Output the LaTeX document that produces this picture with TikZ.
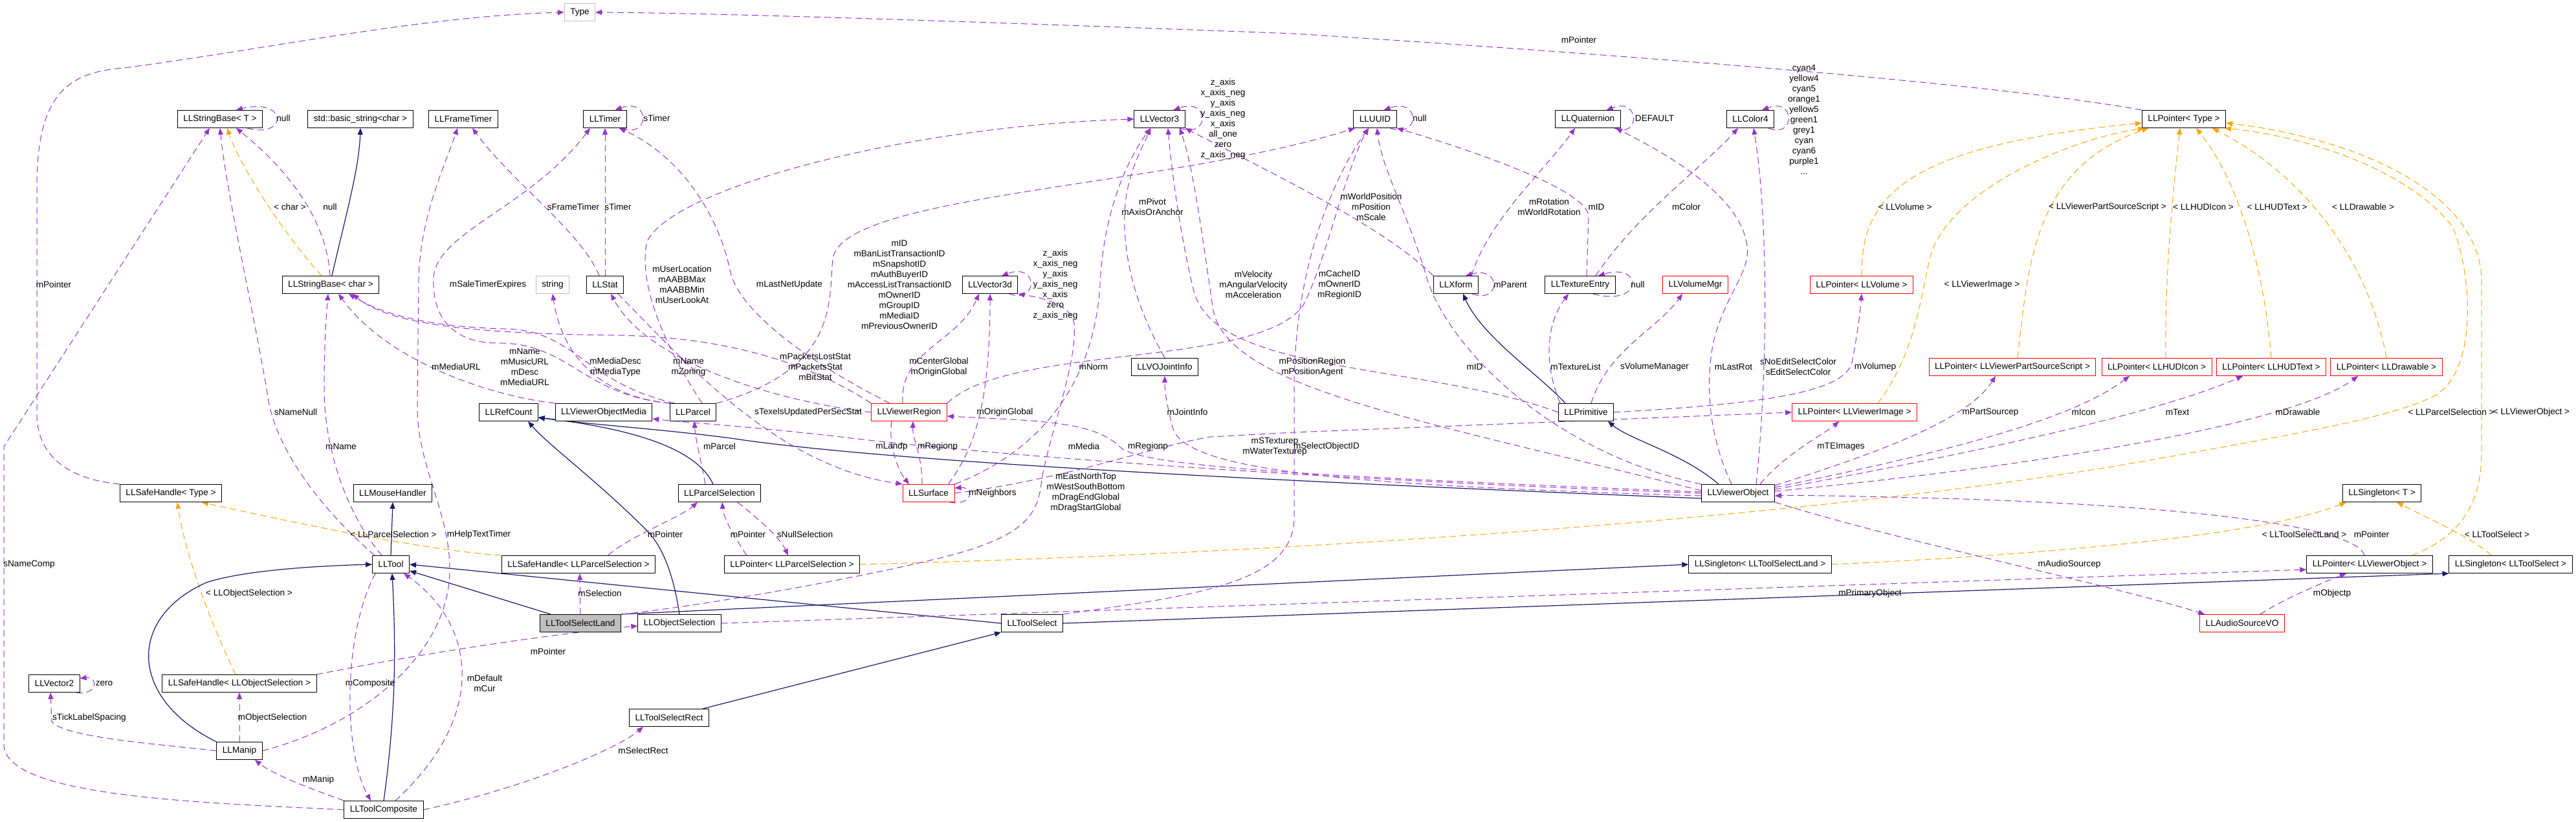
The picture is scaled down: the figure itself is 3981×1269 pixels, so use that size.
\documentclass[tikz,border=0pt]{standalone}
\usepackage{fontspec}
\setmainfont{Liberation Sans}
\usetikzlibrary{arrows.meta,calc}
\definecolor{dxpurple}{HTML}{9A32CD}
\definecolor{dxorange}{HTML}{FFA500}
\definecolor{dxnavy}{HTML}{191970}
\definecolor{dxgray}{HTML}{BFBFBF}
\pgfdeclarelayer{bg}
\pgfdeclarelayer{edges}
\pgfsetlayers{bg,edges,main}
\tikzset{
  cls/.style={draw=black, fill=white, line width=0.5pt, font=\fontsize{6.8}{8}\selectfont,
    inner xsep=4.5pt, inner ysep=0pt, minimum height=13.5pt},
  redcls/.style={cls, draw=red},
  extcls/.style={cls, draw=dxgray},
  curcls/.style={cls, fill=dxgray},
  lbl/.style={font=\fontsize{6.8}{8}\selectfont, inner sep=0pt, align=center},
  usage/.style={draw=dxpurple, line width=0.5pt, dash pattern=on 5pt off 3pt,
    -{Triangle[length=5pt,width=4pt]}},
  tmpl/.style={usage, draw=dxorange},
  inherit/.style={draw=dxnavy, line width=0.6pt, -{Triangle[length=5pt,width=4pt]}},
}
\begin{document}
\begin{tikzpicture}[x=0.5pt,y=-0.5pt]
\useasboundingbox (0,0) rectangle (3981,1269);
\begin{pgfonlayer}{bg}
  \fill[white] (0,0) rectangle (3981,1269);
\end{pgfonlayer}

% classes
\node[extcls] (type) at (896,19) {Type};
\node[cls] (sbT) at (340,184) {LLStringBase< T >};
\node[cls] (bstr) at (557,184) {std::basic\_string<char >};
\node[cls] (ftimer) at (716,184) {LLFrameTimer};
\node[cls] (timer) at (935,184) {LLTimer};
\node[cls] (v3) at (1792,184) {LLVector3};
\node[cls] (uuid) at (2125,184) {LLUUID};
\node[cls] (quat) at (2454,184) {LLQuaternion};
\node[cls] (col4) at (2705,184) {LLColor4};
\node[cls] (ptrT) at (3375,184) {LLPointer< Type >};
\node[cls] (sbc) at (511,440) {LLStringBase< char >};
\node[extcls] (string) at (854,440) {string};
\node[cls] (stat) at (935,440) {LLStat};
\node[cls] (v3d) at (1530,440) {LLVector3d};
\node[cls] (xform) at (2250,440) {LLXform};
\node[cls] (te) at (2442,440) {LLTextureEntry};
\node[redcls] (volmgr) at (2620,440) {LLVolumeMgr};
\node[redcls] (pvol) at (2877,440) {LLPointer< LLVolume >};
\node[redcls] (pvpss) at (3110,567) {LLPointer< LLViewerPartSourceScript >};
\node[redcls] (phicon) at (3333,567) {LLPointer< LLHUDIcon >};
\node[redcls] (phtext) at (3510,567) {LLPointer< LLHUDText >};
\node[redcls] (pdraw) at (3688,567) {LLPointer< LLDrawable >};
\node[cls] (vojoint) at (1800,567) {LLVOJointInfo};
\node[cls] (refc) at (786,637) {LLRefCount};
\node[cls] (vom) at (933,637) {LLViewerObjectMedia};
\node[cls] (parcel) at (1071,637) {LLParcel};
\node[redcls] (region) at (1405,637) {LLViewerRegion};
\node[cls] (prim) at (2451,637) {LLPrimitive};
\node[redcls] (pvimg) at (2866,637) {LLPointer< LLViewerImage >};
\node[cls] (shT) at (264,762) {LLSafeHandle< Type >};
\node[cls] (mouse) at (607,762) {LLMouseHandler};
\node[cls] (psel) at (1112,762) {LLParcelSelection};
\node[redcls] (surf) at (1435,762) {LLSurface};
\node[cls] (vobj) at (2686,762) {LLViewerObject};
\node[cls] (singT) at (3681,762) {LLSingleton< T >};
\node[cls] (tool) at (604,872) {LLTool};
\node[cls] (shps) at (894,872) {LLSafeHandle< LLParcelSelection >};
\node[cls] (pps) at (1224,872) {LLPointer< LLParcelSelection >};
\node[cls] (sistl) at (2720,872) {LLSingleton< LLToolSelectLand >};
\node[cls] (pvo) at (3662,872) {LLPointer< LLViewerObject >};
\node[cls] (sists) at (3880,872) {LLSingleton< LLToolSelect >};
\node[curcls] (tsl) at (897,963) {LLToolSelectLand};
\node[cls] (osel) at (1050,963) {LLObjectSelection};
\node[cls] (tsel) at (1595,963) {LLToolSelect};
\node[redcls] (asvo) at (3465,963) {LLAudioSourceVO};
\node[cls] (v2) at (84,1056) {LLVector2};
\node[cls] (shos) at (370,1056) {LLSafeHandle< LLObjectSelection >};
\node[cls] (tsr) at (1034,1109) {LLToolSelectRect};
\node[cls] (manip) at (370,1160) {LLManip};
\node[cls] (tcomp) at (593,1251) {LLToolComposite};

\begin{pgfonlayer}{edges}
% template instances
\draw[tmpl] ([xshift=-7pt]sbc.north) .. controls (445,370) and (372,260) .. ([xshift=5.5pt]sbT.south);
\draw[tmpl] (shps.north west) .. controls (650,850) and (420,800) .. ([xshift=24pt]shT.south);
\draw[tmpl] ([xshift=-3pt]shos.north) .. controls (320,950) and (285,850) .. ([xshift=5pt]shT.south);
\draw[tmpl] (pvol.north) .. controls (2875,300) and (2950,225) .. ([yshift=-3pt]ptrT.west);
\draw[tmpl] ([xshift=18pt]pvimg.north) .. controls (2965,540) and (2970,440) .. (2985,390) .. controls (3020,290) and (3200,215) .. ([xshift=2pt]ptrT.south west);
\draw[tmpl] ([xshift=4pt]pvpss.north) .. controls (3135,400) and (3145,260) .. ([xshift=5pt]ptrT.south west);
\draw[tmpl] ([xshift=7pt]phicon.north) .. controls (3345,420) and (3360,280) .. ([xshift=-3pt]ptrT.south);
\draw[tmpl] (phtext.north) .. controls (3500,420) and (3460,280) .. ([xshift=9.5pt]ptrT.south);
\draw[tmpl] (pdraw.north) .. controls (3660,400) and (3560,270) .. ([xshift=22pt]ptrT.south);
\draw[tmpl] (pps.east) .. controls (2000,855) and (2800,800) .. (3300,715) .. controls (3550,670) and (3700,645) .. (3765,610) .. controls (3830,570) and (3820,420) .. (3790,350) .. controls (3720,260) and (3560,210) .. ([xshift=-1pt]ptrT.south east);
\draw[tmpl] ([xshift=33pt]pvo.north) .. controls (3800,830) and (3835,780) .. (3835,700) -- (3835,430) .. controls (3830,300) and (3650,215) .. ([yshift=-3pt]ptrT.east);
\draw[tmpl] (sistl.east) .. controls (3200,855) and (3500,825) .. ([xshift=3pt]singT.south west);
\draw[tmpl] ([xshift=-15pt]sists.north) .. controls (3820,830) and (3750,800) .. ([xshift=-19pt]singT.south east);

% inheritance
\draw[inherit] ([xshift=1pt]sbc.north) .. controls (535,330) and (555,260) .. (bstr.south);
\draw[inherit] ([xshift=-16pt]prim.north) .. controls (2380,580) and (2290,520) .. ([xshift=5.5pt]xform.south);
\draw[inherit] ([xshift=-15pt]vobj.north) .. controls (2600,700) and (2520,680) .. ([xshift=17pt]prim.south);
\draw[inherit] ([yshift=-4pt]vobj.west) .. controls (2000,745) and (1400,715) .. (1150,680) .. controls (1050,665) and (900,655) .. ([yshift=-4pt]refc.east);
\draw[inherit] ([xshift=-5pt]psel.north) .. controls (1080,700) and (1000,665) .. ([yshift=-4pt]refc.east);
\draw[inherit] (osel.north) .. controls (1040,880) and (1020,840) .. (1000,820) .. controls (920,740) and (850,690) .. ([xshift=15pt]refc.south);
\draw[inherit] (tool.north) -- (mouse.south);
\draw[inherit] ([xshift=-23pt]tsl.north) -- ([yshift=2pt]tool.south east);
\draw[inherit] (tsel.west) -- (tool.east);
\draw[inherit] (manip.north west) .. controls (200,1080) and (195,955) .. (319,900) .. controls (380,880) and (500,874) .. (tool.west);
\draw[inherit] (tcomp.north) .. controls (612,1100) and (612,1000) .. ([xshift=1pt]tool.south);
\draw[inherit] ([xshift=26pt]tsr.north) -- (tsel.south west);
\draw[inherit] (tsl.north east) -- (sistl.west);
\draw[inherit] (tsel.east) -- (sists.south west);

% usage: top and left
\draw[usage] (ptrT.north west) .. controls (3200,150) and (2900,110) .. (2000,52) .. controls (1500,33) and (1100,20) .. (type.east);
\draw[usage] (shT.north west) .. controls (100,740) and (57,700) .. (57,640) -- (57,290) .. controls (57,150) and (100,112) .. (191,105) .. controls (420,75) and (650,25) .. (type.west);
\draw[usage] (tcomp.west) .. controls (300,1240) and (6,1230) .. (6,1150) -- (6,690) -- ([xshift=-8pt]sbT.south);
\draw[usage] ([xshift=-12pt]sbT.south east) .. controls (445,215) and (445,150) .. ([xshift=12.5pt]sbT.north);
\draw[usage] ([xshift=-0.5pt]sbc.north) .. controls (505,330) and (430,250) .. ([xshift=12.5pt]sbT.south);
\draw[usage] ([xshift=2pt]tool.north west) .. controls (500,790) and (430,700) .. (415,620) .. controls (400,520) and (350,300) .. (sbT.south);
\draw[usage] ([xshift=-7pt]tool.north) .. controls (540,800) and (501,700) .. (501,600) .. controls (501,520) and (505,480) .. ([xshift=-2pt]sbc.south);
\draw[usage] (manip.east) .. controls (560,1120) and (695,1010) .. (695,880) .. controls (695,790) and (645,720) .. (645,630) -- (647,430) .. controls (650,330) and (690,250) .. ([xshift=-4.5pt]ftimer.south);
\draw[usage] ([xshift=-4.5pt]stat.north) .. controls (900,360) and (790,280) .. ([xshift=7pt]ftimer.south);
\draw[usage] (stat.north) -- (timer.south);
\draw[usage] ([xshift=-4pt]timer.south east) .. controls (1005,215) and (1005,150) .. ([xshift=-9pt]timer.north east);
\draw[usage] (parcel.north west) .. controls (900,610) and (880,530) .. (770,530) .. controls (690,530) and (668,480) .. (670,430) .. controls (672,360) and (820,320) .. ([xshift=-11.5pt]timer.south);
\draw[usage] ([xshift=-15pt]region.north) .. controls (1250,560) and (1140,480) .. (1128,417) .. controls (1110,330) and (1050,240) .. ([xshift=11pt]timer.south);
\draw[usage] (vom.north west) .. controls (760,612) and (600,560) .. ([xshift=6pt]sbc.south);
\draw[usage] ([xshift=4pt]parcel.north west) .. controls (900,590) and (890,510) .. (780,508) .. controls (660,505) and (590,485) .. ([xshift=14pt]sbc.south);
\draw[usage] (region.north west) .. controls (1250,560) and (1120,520) .. (950,518) .. controls (720,515) and (600,500) .. ([xshift=17pt]sbc.south);
\draw[usage] ([xshift=1pt]parcel.north west) .. controls (940,615) and (870,560) .. (string.south);
\draw[usage] (region.west) .. controls (1200,620) and (1000,560) .. ([xshift=4.5pt]stat.south);
\draw[usage] ([xshift=10pt]stat.south) .. controls (1060,560) and (1200,720) .. (surf.north west);
\draw[usage] ([xshift=7pt]parcel.north) .. controls (1030,540) and (985,440) .. (1000,373) .. controls (1040,290) and (1400,195) .. (v3.west);

% usage: vectors, ids, rotations
\draw[usage] ([xshift=-4.5pt]v3.south east) .. controls (1870,215) and (1870,150) .. ([xshift=-9pt]v3.north east);
\draw[usage] (vojoint.north) .. controls (1770,500) and (1735,420) .. (1738,330) .. controls (1740,270) and (1765,230) .. ([xshift=-7pt]v3.south);
\draw[usage] (surf.north east) .. controls (1600,700) and (1690,600) .. (1700,440) .. controls (1705,330) and (1740,250) .. ([xshift=-7pt]v3.south);
\draw[usage] (prim.west) .. controls (2200,560) and (1880,580) .. (1845,450) .. controls (1825,370) and (1810,260) .. ([xshift=6.5pt]v3.south);
\draw[usage] ([yshift=2pt]vobj.west) .. controls (2200,650) and (1900,600) .. (1875,480) .. controls (1860,380) and (1845,260) .. ([xshift=15.5pt]v3.south);
\draw[usage] (xform.north west) .. controls (2140,350) and (1950,260) .. (v3.south east);
\draw[usage] (parcel.north east) .. controls (1300,570) and (1280,460) .. (1287,400) .. controls (1300,300) and (1800,290) .. ([xshift=-15.5pt]uuid.south);
\draw[usage] (region.north east) .. controls (1560,530) and (1950,570) .. (2015,470) .. controls (2050,400) and (2080,260) .. ([xshift=-5pt]uuid.south);
\draw[usage] (tsel.north east) .. controls (1850,920) and (2000,900) .. (2000,800) -- (2000,600) .. controls (2000,400) and (2070,260) .. ([xshift=-5pt]uuid.south);
\draw[usage] (vobj.north west) .. controls (2400,700) and (2240,540) .. (2205,430) .. controls (2180,340) and (2135,260) .. ([xshift=1.5pt]uuid.south);
\draw[usage] ([xshift=5pt]te.north) -- (2455,333) .. controls (2450,295) and (2300,240) .. (uuid.south east);
\draw[usage] ([xshift=-5pt]uuid.south east) .. controls (2195,215) and (2195,150) .. ([xshift=-10pt]uuid.north east);
\draw[usage] ([xshift=12pt]xform.north) .. controls (2300,340) and (2390,260) .. ([xshift=-10pt]quat.south);
\draw[usage] ([xshift=-5pt]quat.south east) .. controls (2535,215) and (2535,150) .. ([xshift=-11pt]quat.north east);
\draw[usage] ([xshift=-5pt]vobj.north) .. controls (2630,650) and (2640,560) .. (2650,520) .. controls (2670,450) and (2705,420) .. (2700,380) .. controls (2690,300) and (2570,235) .. ([xshift=21.5pt]quat.south);
\draw[usage] ([xshift=12pt]te.north) .. controls (2530,330) and (2630,260) .. ([xshift=-9.5pt]col4.south);
\draw[usage] ([xshift=14pt]vobj.north) .. controls (2730,600) and (2735,350) .. ([xshift=2.5pt]col4.south);
\draw[usage] ([xshift=-4.5pt]col4.south east) .. controls (2775,215) and (2775,150) .. ([xshift=-9.5pt]col4.north east);
\draw[usage] ([xshift=-5pt]xform.south east) .. controls (2320,470) and (2320,410) .. ([xshift=-10pt]xform.north east);
\draw[usage] ([xshift=10pt]te.south) .. controls (2540,475) and (2540,405) .. ([xshift=14pt]te.north);
\draw[usage] ([xshift=-20pt]prim.north) .. controls (2385,560) and (2390,500) .. ([xshift=-9pt]te.south);
\draw[usage] ([xshift=4pt]prim.north) .. controls (2485,540) and (2560,510) .. ([xshift=-10pt]volmgr.south);
\draw[usage] (prim.east) .. controls (2700,625) and (2850,610) .. (2862,560) .. controls (2870,520) and (2875,480) .. (pvol.south);
\draw[usage] ([xshift=17pt]vobj.north) .. controls (2760,700) and (2820,670) .. ([xshift=-12pt]pvimg.south);
\draw[usage] (surf.east) .. controls (1650,740) and (1780,690) .. (1870,675) -- (2000,668) -- (pvimg.west);
\draw[usage] ([yshift=-2pt]vobj.west) .. controls (2100,750) and (1830,730) .. (1812,660) .. controls (1805,630) and (1800,610) .. (vojoint.south);
\draw[usage] ([yshift=1pt]vobj.west) .. controls (2000,735) and (1760,720) .. (1730,690) .. controls (1690,650) and (1600,650) .. ([yshift=-3pt]region.east);
\draw[usage] (vobj.west) .. controls (2000,740) and (1500,700) .. (1300,675) .. controls (1150,658) and (1050,652) .. ([yshift=-5pt]vom.east);

% usage: region and surface
\draw[usage] ([xshift=-5pt]surf.north east) .. controls (1500,700) and (1530,640) .. (v3d.south);
\draw[usage] ([xshift=-5pt]region.north) .. controls (1390,540) and (1480,530) .. ([xshift=-8.5pt]v3d.south);
\draw[usage] ([xshift=-7pt]v3d.south east) .. controls (1605,470) and (1605,405) .. ([xshift=9pt]v3d.north);
\draw[usage] (tsl.north east) .. controls (1100,935) and (1400,880) .. (1497,850) .. controls (1590,820) and (1605,790) .. (1610,740) .. controls (1625,660) and (1665,560) .. (1660,500) .. controls (1655,470) and (1610,460) .. (v3d.south east);
\draw[usage] ([xshift=-13.5pt]region.south) .. controls (1372,690) and (1390,730) .. ([xshift=-15pt]surf.north);
\draw[usage] ([xshift=-5pt]surf.north) .. controls (1425,700) and (1410,680) .. ([xshift=3pt]region.south);
\draw[usage] ([xshift=-4pt]surf.south east) .. controls (1505,782) and (1505,752) .. ([yshift=4pt]surf.east);

% usage: tools and selections
\draw[usage] (tsl.north) -- ([xshift=1pt]shps.south);
\draw[usage] ([xshift=23pt]shps.north) .. controls (970,830) and (1050,800) .. ([xshift=-17pt]psel.south);
\draw[usage] ([xshift=-35pt]pps.north) .. controls (1135,830) and (1118,800) .. ([xshift=2pt]psel.south);
\draw[usage] ([xshift=14pt]psel.south) .. controls (1170,800) and (1205,830) .. ([xshift=-3pt]pps.north);
\draw[usage] ([xshift=-11pt]psel.north) .. controls (1085,720) and (1075,680) .. ([xshift=1pt]parcel.south);
\draw[usage] (shos.north east) .. controls (700,1000) and (900,975) .. ([yshift=-2pt]osel.west);
\draw[usage] (manip.north) -- (shos.south);
\draw[usage] (manip.west) .. controls (250,1150) and (100,1140) .. (80,1115) -- ([xshift=-3pt]v2.south);
\draw[usage] ([xshift=-3pt]v2.south east) .. controls (152,1075) and (152,1045) .. ([yshift=4pt]v2.east);
\draw[usage] ([xshift=-12pt]tool.south) .. controls (530,980) and (530,1160) .. ([xshift=-10pt]tcomp.north);
\draw[usage] ([xshift=9pt]tcomp.north) .. controls (760,1100) and (730,960) .. ([xshift=10pt]tool.south);
\draw[usage] (tcomp.north west) .. controls (470,1215) and (420,1195) .. ([xshift=12pt]manip.south);
\draw[usage] (tcomp.east) .. controls (800,1220) and (950,1160) .. ([xshift=-20pt]tsr.south);
\draw[usage] (osel.east) -- ([yshift=-4pt]pvo.west);

% usage: viewer object, right side
\draw[usage] ([xshift=-4pt]pvo.north) .. controls (3640,810) and (3350,780) .. (3000,770) .. controls (2850,766) and (2780,765) .. ([yshift=-2pt]vobj.east);
\draw[usage] (vobj.south east) .. controls (2950,840) and (3250,900) .. ([xshift=4pt]asvo.north west);
\draw[usage] ([xshift=14pt]asvo.north) .. controls (3530,925) and (3590,900) .. ([xshift=-18pt]pvo.south);
\draw[usage] ([yshift=6pt]vobj.east) .. controls (2900,700) and (3040,650) .. ([xshift=-13pt]pvpss.south);
\draw[usage] ([yshift=4.5pt]vobj.east) .. controls (3000,700) and (3200,650) .. ([xshift=-21pt]phicon.south);
\draw[usage] ([yshift=3pt]vobj.east) .. controls (3050,700) and (3330,640) .. ([xshift=-22pt]phtext.south);
\draw[usage] ([yshift=1.5pt]vobj.east) .. controls (3200,715) and (3550,650) .. ([xshift=-22pt]pdraw.south);
\end{pgfonlayer}

% edge labels
\node[lbl] (lPtrType) at (2440,62) {mPointer};
\node[lbl] (lShType) at (83,440) {mPointer};
\node[lbl] (lNameComp) at (45,872) {sNameComp};
\node[lbl] (lSbNull) at (438,183) {null};
\node[lbl] (lChar) at (448,320) {< char >};
\node[lbl] (lCharNull) at (510,320) {null};
\node[lbl] (lNameNull) at (457,637) {sNameNull};
\node[lbl] (lToolName) at (527,690) {mName};
\node[lbl] (lHelpTimer) at (740,826) {mHelpTextTimer};
\node[lbl] (lFrameTimer) at (886,320) {sFrameTimer};
\node[lbl] (lStatTimer) at (955,320) {sTimer};
\node[lbl] (lTimerLoop) at (1015,183) {sTimer};
\node[lbl] (lSaleTimer) at (754,440) {mSaleTimerExpires};
\node[lbl] (lNetUpdate) at (1220,440) {mLastNetUpdate};
\node[lbl] (lMediaURL) at (705,567) {mMediaURL};
\node[lbl] (lParcelStr) at (811,567) {mName\\mMusicURL\\mDesc\\mMediaURL};
\node[lbl] (lRegionStr) at (1064,567) {mName\\mZoning};
\node[lbl] (lMediaDesc) at (951,567) {mMediaDesc\\mMediaType};
\node[lbl] (lStats) at (1260,567) {mPacketsLostStat\\mPacketsStat\\mBitStat};
\node[lbl] (lTexels) at (1249,637) {sTexelsUpdatedPerSecStat};
\node[lbl] (lUserLoc) at (1054,440) {mUserLocation\\mAABBMax\\mAABBMin\\mUserLookAt};
\node[lbl] (lV3Loop) at (1890,184) {z\_axis\\x\_axis\_neg\\y\_axis\\y\_axis\_neg\\x\_axis\\all\_one\\zero\\z\_axis\_neg};
\node[lbl] (lPivot) at (1781,320) {mPivot\\mAxisOrAnchor};
\node[lbl] (lNorm) at (1690,567) {mNorm};
\node[lbl] (lVelocity) at (1937,440) {mVelocity\\mAngularVelocity\\mAcceleration};
\node[lbl] (lPosRegion) at (2028,567) {mPositionRegion\\mPositionAgent};
\node[lbl] (lWorldPos) at (2119,320) {mWorldPosition\\mPosition\\mScale};
\node[lbl] (lParcelIDs) at (1390,440) {mID\\mBanListTransactionID\\mSnapshotID\\mAuthBuyerID\\mAccessListTransactionID\\mOwnerID\\mGroupID\\mMediaID\\mPreviousOwnerID};
\node[lbl] (lRegionIDs) at (2070,440) {mCacheID\\mOwnerID\\mRegionID};
\node[lbl] (lTextures) at (1970,690) {mSTexturep\\mWaterTexturep};
\node[lbl] (lSelObjID) at (2050,690) {mSelectObjectID};
\node[lbl] (lObjID) at (2279,567) {mID};
\node[lbl] (lTeID) at (2467,320) {mID};
\node[lbl] (lUuidNull) at (2194,183) {null};
\node[lbl] (lRotation) at (2394,320) {mRotation\\mWorldRotation};
\node[lbl] (lQuatDef) at (2557,183) {DEFAULT};
\node[lbl] (lLastRot) at (2679,567) {mLastRot};
\node[lbl] (lColor) at (2606,320) {mColor};
\node[lbl] (lColLoop) at (2788,185) {cyan4\\yellow4\\cyan5\\orange1\\yellow5\\green1\\grey1\\cyan\\cyan6\\purple1\\...};
\node[lbl] (lSelColor) at (2779,567) {sNoEditSelectColor\\sEditSelectColor};
\node[lbl] (lParent) at (2334,440) {mParent};
\node[lbl] (lTeNull) at (2531,440) {null};
\node[lbl] (lTexList) at (2435,567) {mTextureList};
\node[lbl] (lVolMgr) at (2557,567) {sVolumeManager};
\node[lbl] (lVolumep) at (2898,567) {mVolumep};
\node[lbl] (lTEImages) at (2845,690) {mTEImages};
\node[lbl] (lInstImage) at (3063,440) {< LLViewerImage >};
\node[lbl] (lInstVolume) at (2944,320) {< LLVolume >};
\node[lbl] (lInstPSS) at (3257,320) {< LLViewerPartSourceScript >};
\node[lbl] (lInstIcon) at (3405,320) {< LLHUDIcon >};
\node[lbl] (lInstText) at (3519,320) {< LLHUDText >};
\node[lbl] (lInstDraw) at (3652,320) {< LLDrawable >};
\node[lbl] (lInstPSel) at (3788,637) {< LLParcelSelection >};
\node[lbl] (lInstVObj) at (3912,637) {< LLViewerObject >};
\node[lbl] (lInstTSL) at (3561,826) {< LLToolSelectLand >};
\node[lbl] (lInstTS) at (3859,826) {< LLToolSelect >};
\node[lbl] (lPvoPtr) at (3665,826) {mPointer};
\node[lbl] (lPrimary) at (2890,917) {mPrimaryObject};
\node[lbl] (lAudio) at (3198,872) {mAudioSourcep};
\node[lbl] (lObjectp) at (3604,917) {mObjectp};
\node[lbl] (lPartSrc) at (3076,637) {mPartSourcep};
\node[lbl] (lIcon) at (3220,637) {mIcon};
\node[lbl] (lText) at (3365,637) {mText};
\node[lbl] (lDrawable) at (3551,637) {mDrawable};
\node[lbl] (lNeighbors) at (1534,762) {mNeighbors};
\node[lbl] (lLandp) at (1378,690) {mLandp};
\node[lbl] (lSurfRegion) at (1449,690) {mRegionp};
\node[lbl] (lSurfOrigin) at (1553,637) {mOriginGlobal};
\node[lbl] (lCenter) at (1451,567) {mCenterGlobal\\mOriginGlobal};
\node[lbl] (lV3dLoop) at (1631,440) {z\_axis\\x\_axis\_neg\\y\_axis\\y\_axis\_neg\\x\_axis\\zero\\z\_axis\_neg};
\node[lbl] (lJoint) at (1835,637) {mJointInfo};
\node[lbl] (lObjRegion) at (1774,690) {mRegionp};
\node[lbl] (lMedia) at (1675,690) {mMedia};
\node[lbl] (lDragGlobal) at (1678,761) {mEastNorthTop\\mWestSouthBottom\\mDragEndGlobal\\mDragStartGlobal};
\node[lbl] (lSelection) at (927,917) {mSelection};
\node[lbl] (lInstShPS) at (608,826) {< LLParcelSelection >};
\node[lbl] (lInstShOS) at (385,917) {< LLObjectSelection >};
\node[lbl] (lPpsPtr) at (1156,826) {mPointer};
\node[lbl] (lShpsPtr) at (1028,826) {mPointer};
\node[lbl] (lNullSel) at (1244,826) {sNullSelection};
\node[lbl] (lParcel) at (1112,690) {mParcel};
\node[lbl] (lShosPtr) at (847,1007) {mPointer};
\node[lbl] (lObjSel) at (421,1109) {mObjectSelection};
\node[lbl] (lTick) at (138,1109) {sTickLabelSpacing};
\node[lbl] (lV2Zero) at (161,1056) {zero};
\node[lbl] (lComposite) at (572,1056) {mComposite};
\node[lbl] (lDefCur) at (749,1056) {mDefault\\mCur};
\node[lbl] (lManip) at (492,1205) {mManip};
\node[lbl] (lSelRect) at (994,1160) {mSelectRect};
\end{tikzpicture}
\end{document}
